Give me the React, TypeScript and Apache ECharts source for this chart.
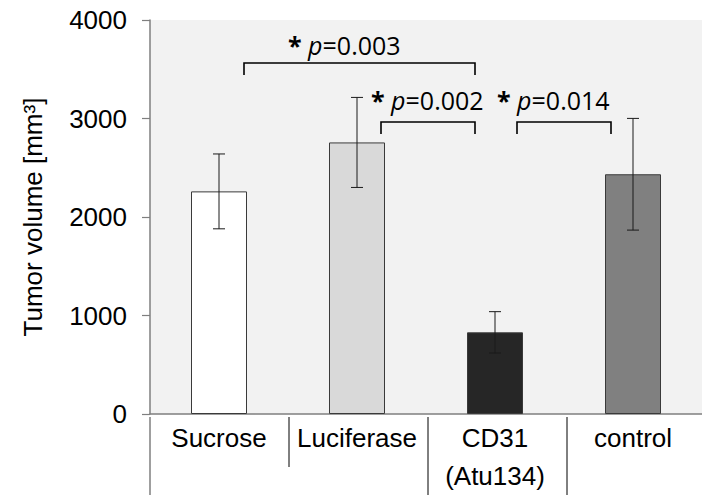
import React, { useEffect, useRef } from "react";
import * as echarts from "echarts";

const categories = ["Sucrose", "Luciferase", "CD31\n(Atu134)", "control"];
const values = [2260, 2757, 829, 2434];
const errors = [380, 457, 210, 567];
const barColors = ["#ffffff", "#d9d9d9", "#262626", "#808080"];
const yTicks = { min: 0, max: 4000, interval: 1000 };
const sigLabels = ["0.003", "0.002", "0.014"];

export default function App() {
  const ref = useRef<HTMLDivElement>(null);
  useEffect(() => {
    if (!ref.current) return;
    const chart = echarts.init(ref.current, null, { renderer: "svg" });
    const F = 25;
    const sigText = (left: number, midY: number, val: string) => ({
      type: "text",
      x: left,
      y: midY,
      style: {
        text: "{a|*} {p|p}{n|=" + val + "}",
        verticalAlign: "middle",
        rich: {
          a: { fontFamily: "Open Sans", fontSize: F, fontWeight: "bold", fill: "#000" },
          p: { fontFamily: "Open Sans", fontSize: F, fontStyle: "italic", fill: "#000" },
          n: { fontFamily: "Open Sans", fontSize: F, fill: "#000" },
        },
        fontFamily: "Open Sans",
        fontSize: F,
      },
    });
    const bracket = (x1: number, x2: number, top: number, bottom: number) => ({
      type: "polyline",
      shape: { points: [[x1, bottom], [x1, top], [x2, top], [x2, bottom]] },
      style: { stroke: "#000", lineWidth: 1.6, fill: null },
    });
    const vline = (x: number, y1: number, y2: number, color: string, w: number) => ({
      type: "line",
      shape: { x1: x, y1, x2: x, y2 },
      style: { stroke: color, lineWidth: w },
    });
    chart.setOption({
      animation: false,
      grid: {
        left: 150,
        top: 20,
        width: 556,
        height: 397,
        show: true,
        backgroundColor: "#f2f2f2",
        borderWidth: 0,
      },
      xAxis: {
        type: "category",
        data: categories,
        axisLine: { show: true, lineStyle: { color: "#7f7f7f", width: 1.5 } },
        axisTick: { show: false },
        axisLabel: {
          color: "#000",
          fontFamily: "Liberation Sans",
          fontSize: 26,
          lineHeight: 38,
          margin: 5,
          interval: 0,
        },
      },
      yAxis: {
        type: "value",
        min: yTicks.min,
        max: yTicks.max,
        interval: yTicks.interval,
        name: "Tumor volume [mm³]",
        nameLocation: "middle",
        nameRotate: 90,
        nameGap: 104,
        nameTextStyle: { color: "#000", fontFamily: "Liberation Sans", fontSize: 26 },
        axisLine: { show: true, lineStyle: { color: "#7f7f7f", width: 1.5 } },
        axisTick: { show: true, length: 8, lineStyle: { color: "#7f7f7f", width: 1.2 } },
        splitLine: { show: false },
        axisLabel: {
          color: "#000",
          fontFamily: "Liberation Sans",
          fontSize: 26,
          margin: 23,
          formatter: (v: number) => String(v),
        },
      },
      series: [
        {
          type: "bar",
          barWidth: 56,
          data: values.map((v, i) => ({
            value: v,
            itemStyle: { color: barColors[i], borderColor: "#3a3a3a", borderWidth: 1 },
          })),
        },
        {
          type: "custom",
          z: 10,
          data: values.map((v, i) => [i, v - errors[i], v + errors[i]]),
          renderItem: (params: any, api: any) => {
            const lo = api.coord([api.value(0), api.value(1)]);
            const hi = api.coord([api.value(0), api.value(2)]);
            const hw = 6;
            const st = { stroke: "#1a1a1a", lineWidth: 1 };
            return {
              type: "group",
              children: [
                { type: "line", shape: { x1: hi[0], y1: hi[1], x2: lo[0], y2: lo[1] }, style: st },
                { type: "line", shape: { x1: hi[0] - hw, y1: hi[1], x2: hi[0] + hw, y2: hi[1] }, style: st },
                { type: "line", shape: { x1: lo[0] - hw, y1: lo[1], x2: lo[0] + hw, y2: lo[1] }, style: st },
              ],
            };
          },
        },
      ],
      graphic: [
        vline(150, 417, 495, "#7f7f7f", 1.5),
        vline(289, 417, 467, "#000", 1),
        vline(428, 417, 495, "#000", 1),
        vline(567, 417, 495, "#000", 1),
        bracket(244, 475, 63, 75),
        bracket(381, 475, 122, 134),
        bracket(517, 611, 122, 134),
        sigText(288, 45, sigLabels[0]),
        sigText(371, 100, sigLabels[1]),
        sigText(497, 100, sigLabels[2]),
      ],
    });
    return () => chart.dispose();
  }, []);
  return (
    <div
      ref={ref}
      style={{ position: "fixed", left: 0, top: 0, width: 702, height: 495, background: "#fff" }}
    />
  );
}
